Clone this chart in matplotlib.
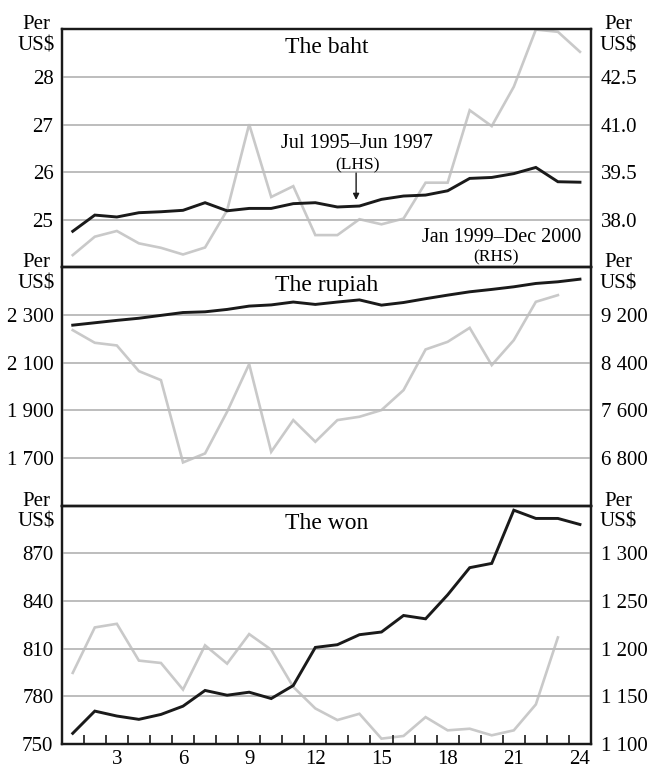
import numpy as np
import matplotlib
matplotlib.use('Agg')
import matplotlib.pyplot as plt
from matplotlib.ticker import FixedLocator

plt.rcParams['font.family'] = ['Liberation Serif', 'DejaVu Serif']

months = list(range(1, 25))

# The baht: Jul 1995-Jun 1997 (LHS) and Jan 1999-Dec 2000 (RHS)
baht_lhs = [24.76, 25.10, 25.06, 25.15, 25.17, 25.20, 25.36, 25.19, 25.24, 25.24, 25.34, 25.36,
            25.27, 25.29, 25.43, 25.50, 25.52, 25.61, 25.87, 25.89, 25.97, 26.10, 25.80, 25.79]
baht_rhs = [36.89, 37.47, 37.65, 37.26, 37.12, 36.91, 37.13, 38.30, 41.01, 38.72, 39.06, 37.52,
            37.52, 38.02, 37.86, 38.04, 39.17, 39.17, 41.45, 40.95, 42.19, 43.99, 43.92, 43.29]

# The rupiah
rupiah_lhs = [2258, 2268, 2278, 2287, 2299, 2311, 2314, 2324, 2338, 2343, 2355, 2345,
              2355, 2364, 2342, 2353, 2369, 2384, 2398, 2408, 2419, 2433, 2440, 2451]
rupiah_rhs = [8948, 8736, 8691, 8260, 8109, 6727, 6878, 7578, 8378, 6906, 7438, 7074,
              7438, 7494, 7606, 7941, 8624, 8752, 8987, 8361, 8780, 9424, 9536]

# The won
won_lhs = [756.7, 770.7, 767.6, 765.5, 768.6, 773.8, 783.7, 780.7, 782.6, 778.6, 786.8, 810.8,
           812.5, 818.8, 820.5, 830.9, 828.8, 843.9, 861.0, 863.7, 897.2, 892.0, 892.0, 888.2]
won_rhs = [1174.6, 1222.3, 1226.1, 1187.5, 1185.0, 1157.1, 1203.5, 1184.3, 1215.3, 1198.9, 1159.9, 1137.3,
           1125.1, 1131.7, 1105.6, 1108.4, 1128.2, 1114.3, 1116.0, 1109.1, 1114.3, 1141.5, 1211.8]

panels = [
    dict(title='The baht', lhs=baht_lhs, rhs=baht_rhs,
         ylim=(24, 29), yticks=[25, 26, 27, 28], ylabels=['25', '26', '27', '28'],
         rlim=(36.5, 44), rticks=[38.0, 39.5, 41.0, 42.5], rlabels=['38.0', '39.5', '41.0', '42.5']),
    dict(title='The rupiah', lhs=rupiah_lhs, rhs=rupiah_rhs,
         ylim=(1500, 2500), yticks=[1700, 1900, 2100, 2300], ylabels=['1 700', '1 900', '2 100', '2 300'],
         rlim=(6000, 10000), rticks=[6800, 7600, 8400, 9200], rlabels=['6 800', '7 600', '8 400', '9 200']),
    dict(title='The won', lhs=won_lhs, rhs=won_rhs,
         ylim=(750, 900), yticks=[750, 780, 810, 840, 870], ylabels=['750', '780', '810', '840', '870'],
         rlim=(1100, 1350), rticks=[1100, 1150, 1200, 1250, 1300],
         rlabels=['1 100', '1 150', '1 200', '1 250', '1 300']),
]

BLACK = '#1a1a1a'
GREY = '#c9c9c9'
GRID = '#bdbdbd'
FS = 15

fig = plt.figure(figsize=(6.51, 7.70), dpi=100)
left, width = 0.0948, 0.8130
height = 0.3094
bottoms = [0.6526, 0.3432, 0.0338]

axes = []
for p, b in zip(panels, bottoms):
    ax = fig.add_axes([left, b, width, height])
    ax2 = ax.twinx()
    ax.set_zorder(ax2.get_zorder() + 1)
    ax.patch.set_visible(False)

    n = len(p['rhs'])
    ax2.plot(months[:n], p['rhs'], color=GREY, lw=1.9, solid_joinstyle='miter')
    ax.plot(months, p['lhs'], color=BLACK, lw=2.1, solid_joinstyle='miter')

    ax.set_xlim(0.5, 24.5)
    ax.set_ylim(*p['ylim'])
    ax2.set_ylim(*p['rlim'])
    ax.set_yticks(p['yticks'])
    ax.set_yticklabels(p['ylabels'])
    ax2.set_yticks(p['rticks'])
    ax2.set_yticklabels(p['rlabels'])
    ax.tick_params(axis='y', length=0, pad=6.0, labelsize=FS)
    ax2.tick_params(axis='y', length=0, pad=7.0, labelsize=FS)

    for t in p['yticks']:
        if p['ylim'][0] < t < p['ylim'][1]:
            ax.axhline(t, color=GRID, lw=1.4, zorder=0)

    for a in (ax, ax2):
        for s in a.spines.values():
            s.set_linewidth(1.6)
            s.set_color(BLACK)

    ax.text(0.5, 0.924, p['title'], transform=ax.transAxes, ha='center', va='center', fontsize=17)
    for xf in (-0.0486, 1.051):
        ax.text(xf, 1.0, 'Per', transform=ax.transAxes, ha='center', va='baseline', fontsize=FS)
        ax.text(xf, 0.912, 'US$', transform=ax.transAxes, ha='center', va='baseline', fontsize=FS)
    axes.append(ax)

# x axis only labelled on the bottom panel
for ax in axes[:2]:
    ax.set_xticks([])
bot = axes[2]
bot.set_xticks([3, 6, 9, 12, 15, 18, 21, 24])
bot.xaxis.set_minor_locator(FixedLocator(np.arange(1.5, 24, 1.0)))
bot.tick_params(axis='x', which='major', length=0, pad=4.0, labelsize=FS)
bot.tick_params(axis='x', which='minor', direction='in', length=6.5, width=1.2, color=BLACK)

# annotations in the baht panel
top = axes[0]
top.text(13.9, 26.6, 'Jul 1995\u2013Jun 1997', ha='center', va='center', fontsize=14.5)
top.text(13.9, 26.15, '(LHS)', ha='center', va='center', fontsize=12.5)
top.annotate('', xy=(13.85, 25.36), xytext=(13.85, 26.04),
             arrowprops=dict(arrowstyle='-|>', color=BLACK, lw=1.0, mutation_scale=9))
top.text(24.05, 24.64, 'Jan 1999\u2013Dec 2000', ha='right', va='center', fontsize=14.5)
top.text(20.2, 24.22, '(RHS)', ha='center', va='center', fontsize=12.5)

plt.savefig('out.png', dpi=100)
